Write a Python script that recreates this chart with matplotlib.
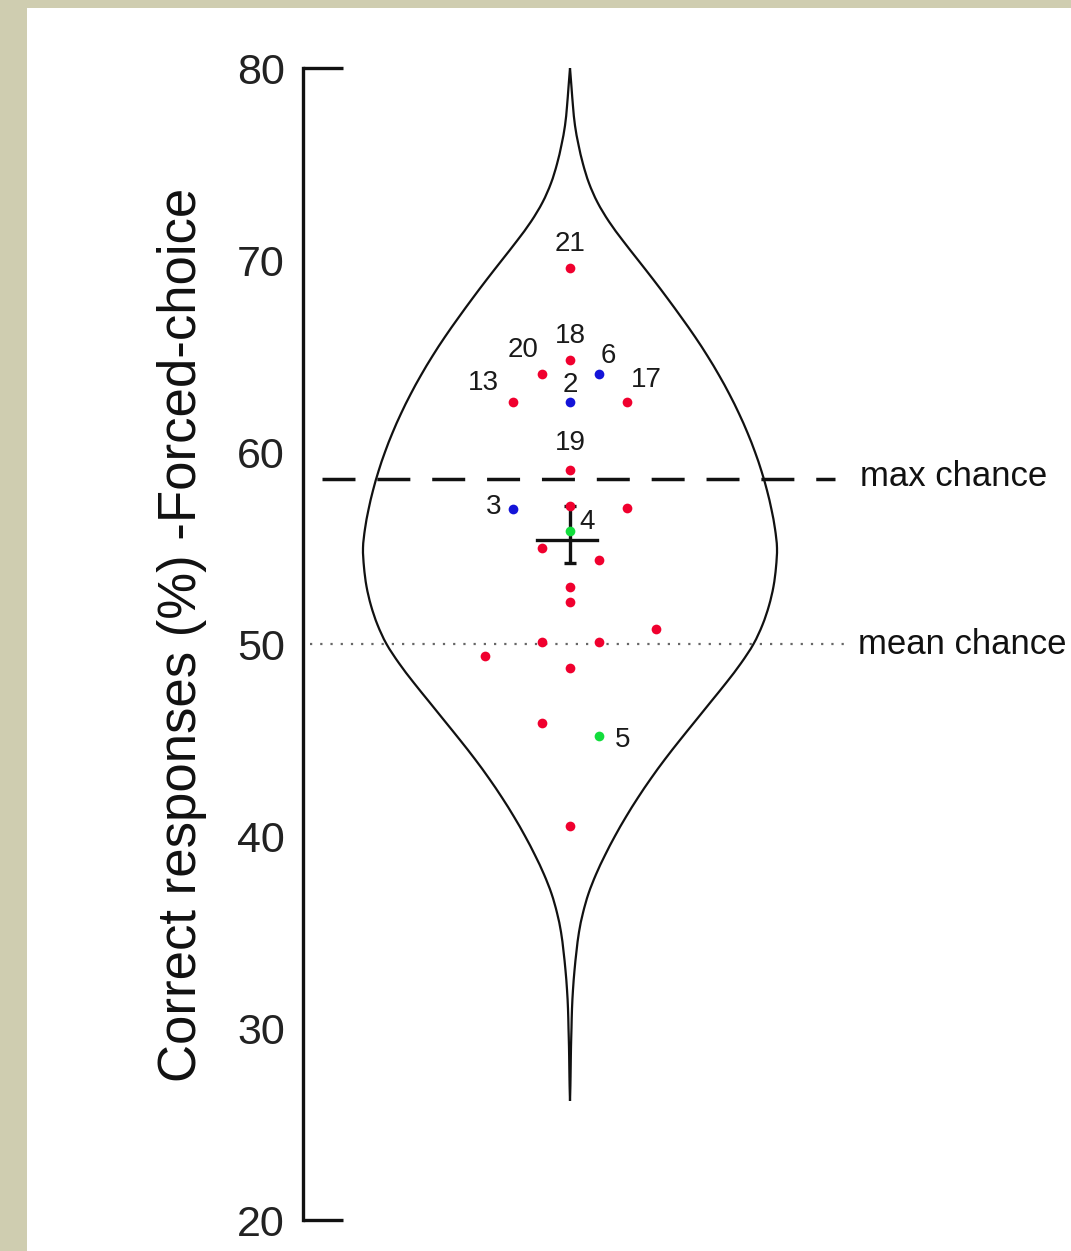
import matplotlib
matplotlib.use("Agg")
import matplotlib.pyplot as plt
from matplotlib.patches import Rectangle, PathPatch
from matplotlib.path import Path
import numpy as np

plt.rcParams['font.family'] = ['Liberation Sans', 'DejaVu Sans']

# ---- data ----
# violin outline: level (% correct) and half-width (relative density, px at reference scale)
violin_levels = [80, 79, 78, 77, 76, 75, 74, 73, 72, 71, 70, 69, 68, 67, 66, 65, 64, 63, 62, 61,
                 60, 59, 58, 57, 56, 55, 54, 53, 52, 51, 50, 49, 48, 47, 46, 45, 44, 43, 42, 41,
                 40, 39, 38, 37, 36, 35, 34, 33, 32, 31, 30, 29, 28, 27, 26.2]
violin_halfwidth = [0, 1.5, 3, 5, 8.5, 13, 19, 27.5, 39, 53, 68, 83, 97.5, 111.5, 125, 137.5, 149, 159.5,
                    169, 177.5, 185, 191.5, 197, 201.5, 205, 207, 206, 203.5, 199, 192.5, 183.5, 171,
                    156.5, 141, 125.5, 110, 95, 81, 68, 56, 45, 35, 26, 18.5, 13, 9, 6.5, 4.5, 3, 2,
                    1.5, 1, 0.7, 0.4, 0]

# participants: jitter column, score, colour group, label
point_cols = [0, 0, -1, 1, -2, 0, 2, 0, -2, 0, 2, 0, -1, 1, 0, 0, 3, -1, 1, -3, 0, -1, 1, 0]
point_vals = [69.6, 64.8, 64.05, 64.05, 62.6, 62.6, 62.6, 59.05, 57.05, 57.2, 57.1, 55.9,
              55.0, 54.4, 52.95, 52.2, 50.8, 50.1, 50.1, 49.4, 48.75, 45.9, 45.2, 40.5]
point_group = ['r', 'r', 'r', 'b', 'r', 'b', 'r', 'r', 'b', 'r', 'r', 'g',
               'r', 'r', 'r', 'r', 'r', 'r', 'r', 'r', 'r', 'r', 'g', 'r']
point_labels = ['21', '18', '20', '6', '13', '2', '17', '19', '3', '', '', '4',
                '', '', '', '', '', '', '', '', '', '', '5', '']

mean_val = 55.4
ci_low = 54.2
ci_high = 57.2
max_chance = 58.6
mean_chance = 50.0

yticks = [20, 30, 40, 50, 60, 70, 80]

# ---- style ----
group_colors = {'r': '#f0002e', 'b': '#1414d8', 'g': '#12dd3c'}
label_offsets = {'21': (0, 24), '18': (0, 24), '20': (-18, 24), '6': (10, 18), '13': (-30, 19),
                 '2': (0, 17), '17': (19, 22), '19': (0, 27), '3': (-19, 2), '4': (17, 9),
                 '5': (24, -4)}
jitter_step = 28.5


def smooth_path(xs, ys):
    """Catmull-Rom curve through the given vertices, as cubic Bezier path."""
    pts = np.column_stack([xs, ys]).astype(float)
    n = len(pts)
    verts = [pts[0]]
    codes = [Path.MOVETO]
    for i in range(n - 1):
        p0 = pts[max(i - 1, 0)]
        p1 = pts[i]
        p2 = pts[i + 1]
        p3 = pts[min(i + 2, n - 1)]
        c1 = p1 + (p2 - p0) / 6.0
        c2 = p2 - (p3 - p1) / 6.0
        verts += [c1, c2, p2]
        codes += [Path.CURVE4] * 3
    return Path(verts, codes)


W, H = 1071, 1251
fig = plt.figure(figsize=(W / 100, H / 100), dpi=100, facecolor='#cfcdb0')
fig.patches.append(Rectangle((27 / W, 0), 1 - 27 / W, 1 - 8 / H, transform=fig.transFigure,
                             facecolor='white', edgecolor='none', zorder=-10))

ax = fig.add_axes([303 / W, 31 / H, 768 / W, 1152 / H])
ax.patch.set_alpha(0)
ax.set_xlim(-267, 501)
ax.set_ylim(20, 80)
for s in ['top', 'right', 'bottom']:
    ax.spines[s].set_visible(False)
ax.spines['left'].set_linewidth(2.4)
ax.spines['left'].set_color('#111111')
ax.set_xticks([])
ax.yaxis.remove_overlapping_locs = False
ax.set_yticks(yticks)
ax.set_yticklabels([str(t) for t in yticks])
ax.tick_params(axis='y', which='major', length=0, pad=13, labelsize=31, labelcolor='#222222')
ax.set_yticks([20, 80], minor=True)
ax.tick_params(axis='y', which='minor', direction='in', length=29, width=2.4, color='#111111')

# violin
hw = np.array(violin_halfwidth)
lv = np.array(violin_levels)
ax.add_patch(PathPatch(smooth_path(hw, lv), facecolor='none', edgecolor='#111111', lw=1.6, zorder=2))
ax.add_patch(PathPatch(smooth_path(-hw, lv), facecolor='none', edgecolor='#111111', lw=1.6, zorder=2))

# reference lines
ax.plot([-248, 265], [max_chance, max_chance], color='#111111', lw=2.5,
        dashes=(9.5, 6.3), zorder=1)
ax.plot([-260, 275], [mean_chance, mean_chance], color='#666666', lw=1.6,
        dashes=(1.0, 3.6), zorder=1)
ax.text(290, max_chance + 0.15, 'max chance', fontsize=25, va='center', ha='left', color='#111111')
ax.text(288, mean_chance, 'mean chance', fontsize=25, va='center', ha='left', color='#111111')

# mean and error bar
ax.errorbar([0], [mean_val], yerr=[[mean_val - ci_low], [ci_high - mean_val]], fmt='none',
            ecolor='#111111', elinewidth=2.4, capsize=4, capthick=2.4, zorder=3)
ax.plot([-33, 27], [mean_val, mean_val], color='#111111', lw=2.4, zorder=3)

# points
for c, v, g, lab in zip(point_cols, point_vals, point_group, point_labels):
    x = c * jitter_step
    ax.plot([x], [v], 'o', color=group_colors[g], ms=7, mec='none', zorder=4)
    if lab:
        dx, dy = label_offsets[lab]
        ax.annotate(lab, (x, v), xytext=(dx, dy), textcoords='offset pixels',
                    ha='center', va='center', fontsize=20, color='#1a1a1a', zorder=5)

fig.text(182 / W, 1 - 635 / H, 'Correct responses (%) -Forced-choice', rotation=90,
         fontsize=38, ha='center', va='center', color='#111111')

fig.savefig('out.png', dpi=100, facecolor=fig.get_facecolor())
